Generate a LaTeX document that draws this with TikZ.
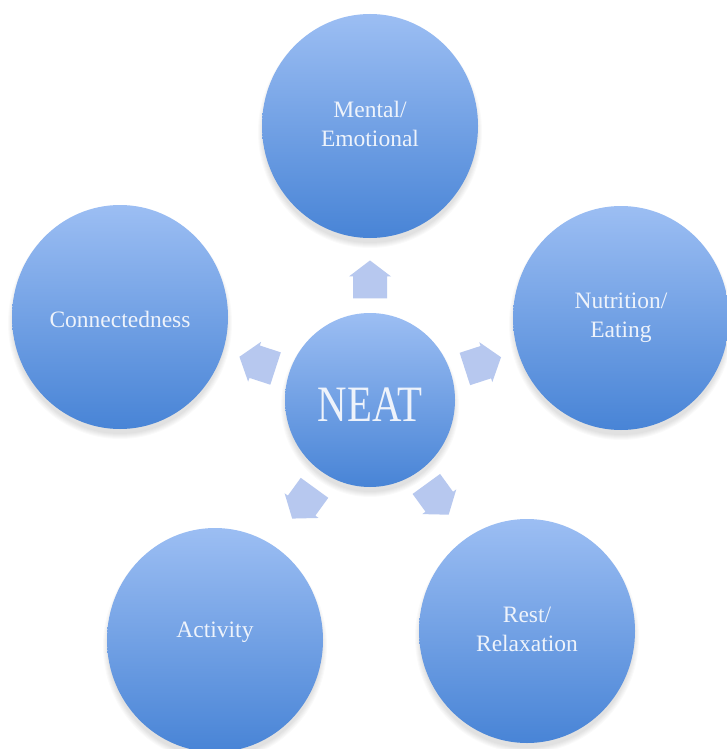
\documentclass[tikz,border=0pt]{standalone}
\usepackage{fontspec}
\setmainfont{Liberation Serif}
\newfontfamily\neatfont[FakeStretch=0.8]{Liberation Serif}
\usetikzlibrary{shapes.geometric,calc}
\definecolor{ctop}{HTML}{9CBEF3}
\definecolor{cbot}{HTML}{4884D6}
\definecolor{ctext}{HTML}{EEF3FB}
\definecolor{afill}{HTML}{B7C8EF}
\begin{document}
\begin{tikzpicture}[x=1pt,y=-1pt,
  bubble/.style={ellipse, inner sep=0pt, minimum width=216pt, minimum height=224pt,
    top color=ctop, bottom color=cbot, draw=none},
  hub/.style={bubble, minimum width=170pt, minimum height=174pt},
  lbl/.style={text=ctext, font=\fontsize{23.5}{29}\selectfont, align=center},
  hublbl/.style={text=ctext, font=\neatfont\fontsize{51}{51}\selectfont},
  house/.pic={\fill[afill] (0pt,19pt) -- (21pt,3pt) -- (17pt,3pt) -- (17pt,-19pt)
     -- (-17pt,-19pt) -- (-17pt,3pt) -- (-21pt,3pt) -- cycle;}
]
\useasboundingbox[fill=white] (0,0) rectangle (726,749);
% centres
\coordinate (cN) at (370,400);
\coordinate (cT) at (370,126);
\coordinate (cR) at (621,318);
\coordinate (cL) at (120,317);
\coordinate (cBL) at (215,640);
\coordinate (cBR) at (527,631);
% soft shadows
\foreach \c/\a/\b in {cT/108/112, cR/108/112, cL/108/112, cBL/108/112, cBR/108/112, cN/85/87}{
  \foreach \i in {0,...,5}{
    \fill[black, opacity=0.02] ($(\c)+(0,6)$) ellipse ({\a+\i-1} and {\b+\i-1});
  }
}
% bubbles
\node[hub] (neat) at (cN) {};
\node[bubble] (top) at (cT) {};
\node[bubble] (right) at (cR) {};
\node[bubble] (left) at (cL) {};
\node[bubble] (bl) at (cBL) {};
\node[bubble] (br) at (cBR) {};
% labels
\node[hublbl] (neatt) at ($(neat)+(0,5)$) {NEAT};
\node[lbl] (topt) at ($(top)+(0,-2)$) {Mental/\\Emotional};
\node[lbl] (rightt) at (right) {Nutrition/\\Eating};
\node[lbl] (leftt) at ($(left)+(0,2)$) {Connectedness};
\node[lbl] (blt) at ($(bl)+(0,-8)$) {Activity};
\node[lbl] (brt) at ($(br)+(0,-2)$) {Rest/\\Relaxation};
% arrows
\pic[rotate=0] at ($(neat)!0.44!(top)$) {house};
\pic[rotate=-72] at ($(neat)!0.45!(right)$) {house};
\pic[rotate=72] at ($(neat)!0.45!(left)$) {house};
\pic[rotate=144] at ($(neat)!0.43!(bl)$) {house};
\pic[rotate=-144] at ($(neat)!0.43!(br)$) {house};
\end{tikzpicture}
\end{document}
